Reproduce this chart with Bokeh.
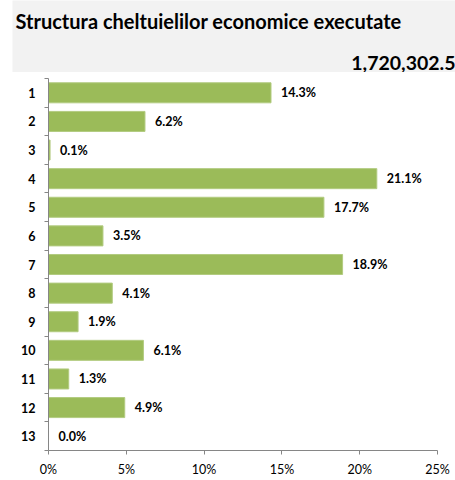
from bokeh.plotting import figure
from bokeh.layouts import column
from bokeh.models import Range1d, FixedTicker, PrintfTickFormatter, ColumnDataSource
from bokeh.core.properties import value
from bokeh.embed import file_html
from bokeh.resources import INLINE

title_text = "Structura cheltuielilor economice executate"
total_text = "1,720,302.5"
categories = ["1", "2", "3", "4", "5", "6", "7", "8", "9", "10", "11", "12", "13"]
shares = [14.3, 6.2, 0.1, 21.1, 17.7, 3.5, 18.9, 4.1, 1.9, 6.1, 1.3, 4.9, 0.0]
x_ticks = [0, 5, 10, 15, 20, 25]

FONT = "Lato"
GREEN = "#9bbb59"
AXIS = "#868686"
HEAD_BG = "#f2f2f2"

W = 455
HEAD_H = 72

# ---- header ----
h = figure(width=W, height=HEAD_H, x_range=Range1d(0, W - 12), y_range=Range1d(HEAD_H, 0),
           toolbar_location=None, output_backend="svg",
           min_border_left=12, min_border_right=0, min_border_top=0, min_border_bottom=0,
           background_fill_color=HEAD_BG, border_fill_color="white",
           outline_line_color=None)
h.axis.visible = False
h.grid.visible = False
h.text(x=[3], y=[20], text=[title_text], text_font=value(FONT), text_font_style="bold",
       text_font_size="20px", text_baseline="middle", text_align="left", text_color="black")
h.text(x=[W - 12], y=[62], text=[total_text], text_font=value(FONT), text_font_style="bold",
       text_font_size="19.5px", text_baseline="middle", text_align="right", text_color="black")

# ---- chart ----
ypos = list(range(1, len(categories) + 1))
src = ColumnDataSource(dict(y=ypos, v=shares, lab=[f"{s:.1f}%" for s in shares]))

p = figure(width=W, height=480 - HEAD_H, x_range=Range1d(0, 25),
           y_range=Range1d(len(categories) + 0.5, 0.5),
           toolbar_location=None, output_backend="svg",
           min_border_left=48, min_border_right=18, min_border_top=6, min_border_bottom=30,
           background_fill_color="white", border_fill_color="white",
           outline_line_color=None)
p.grid.visible = False

for fig in (h, p):
    try:
        fig.frame_align = False
    except Exception:
        pass

p.hbar(y="y", right="v", left=0, height=0.7, source=src, fill_color=GREEN,
       line_color="#b2cb80", line_width=1)
p.text(x="v", y="y", text="lab", source=src, x_offset=10, text_font=value(FONT),
       text_font_style="bold", text_font_size="12.5px", text_baseline="middle",
       text_align="left", text_color="black")

yax = p.yaxis[0]
yax.ticker = FixedTicker(ticks=ypos, minor_ticks=[y - 0.5 for y in ypos] + [len(ypos) + 0.5])
yax.major_label_overrides = {y: c for y, c in zip(ypos, categories)}
yax.major_tick_line_color = None
yax.major_tick_out = 0
yax.major_tick_in = 0
yax.minor_tick_out = 4
yax.minor_tick_in = 0
yax.minor_tick_line_color = AXIS
yax.axis_line_color = AXIS
yax.major_label_standoff = 9
yax.major_label_text_font = FONT
yax.major_label_text_font_style = "bold"
yax.major_label_text_font_size = "12.5px"
yax.major_label_text_color = "black"

xax = p.xaxis[0]
xax.ticker = FixedTicker(ticks=x_ticks, minor_ticks=[])
xax.formatter = PrintfTickFormatter(format="%d%%")
xax.major_tick_out = 4
xax.major_tick_in = 0
xax.major_tick_line_color = AXIS
xax.minor_tick_line_color = None
xax.axis_line_color = AXIS
xax.major_label_standoff = 7
xax.major_label_text_font = FONT
xax.major_label_text_font_size = "12.5px"
xax.major_label_text_color = "black"

layout = column(h, p, spacing=0)
open("out.html", "w").write(file_html(layout, INLINE))
